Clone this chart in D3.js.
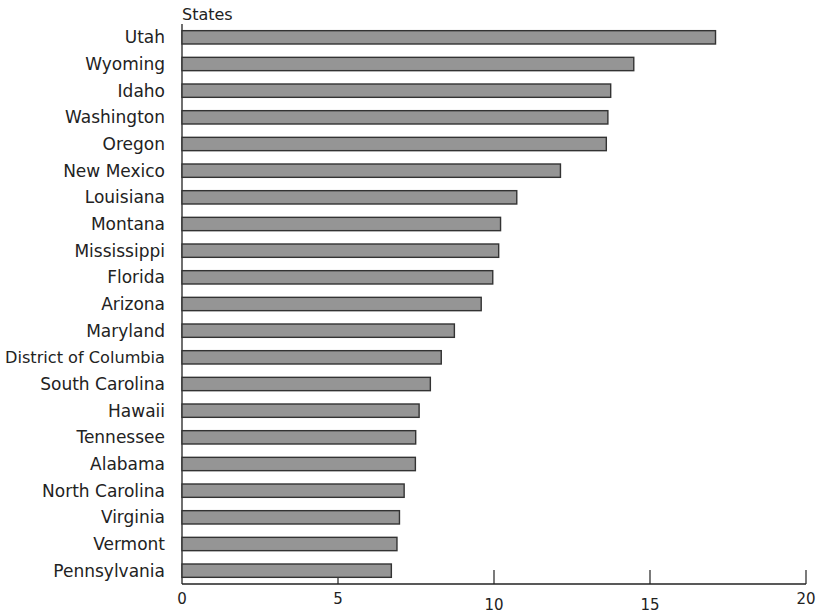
<!DOCTYPE html>
<html><head><meta charset="utf-8">
<script src="https://cdn.jsdelivr.net/npm/d3@7"></script>
<style>body{margin:0;background:#fff}text{font-family:"DejaVu Sans",sans-serif;fill:#222}</style>
</head><body><svg id="c" width="820" height="614"></svg>
<script>
const states = ["Utah","Wyoming","Idaho","Washington","Oregon","New Mexico","Louisiana","Montana","Mississippi","Florida","Arizona","Maryland","District of Columbia","South Carolina","Hawaii","Tennessee","Alabama","North Carolina","Virginia","Vermont","Pennsylvania"];
const values = [17.1,14.48,13.74,13.65,13.6,12.13,10.73,10.21,10.15,9.96,9.59,8.73,8.31,7.96,7.6,7.49,7.48,7.12,6.97,6.89,6.71];
const tickValues = [0,5,10,15,20];
const loweredTicks = [10,15];
const axisTitle = "States";

const svg = d3.select("#c");
const x = d3.scaleLinear().domain([0,20]).range([182,806]);
const y = d3.scaleBand().domain(states).range([24,584]).paddingInner(0.5).paddingOuter(0.25);

// x axis
const ax = svg.append("g");
ax.append("line").attr("x1",x(0)).attr("x2",x(20)).attr("y1",584).attr("y2",584).attr("stroke","#222").attr("stroke-width",1.3);
ax.selectAll("line.t").data(tickValues.slice(1)).join("line").attr("class","t")
  .attr("x1",d=>x(d)).attr("x2",d=>x(d)).attr("y1",570).attr("y2",584).attr("stroke","#222").attr("stroke-width",1.2);
ax.selectAll("text").data(tickValues).join("text")
  .attr("x",d=>x(d)).attr("y",d=>loweredTicks.includes(d)?610:604)
  .attr("text-anchor","middle").attr("font-size",15).text(d=>d);

// y axis line
svg.append("line").attr("x1",x(0)).attr("x2",x(0)).attr("y1",24).attr("y2",584).attr("stroke","#222").attr("stroke-width",1.3);

// bars
svg.selectAll("rect").data(states).join("rect")
  .attr("x",x(0)).attr("y",d=>y(d)).attr("width",(d,i)=>x(values[i])-x(0)).attr("height",y.bandwidth())
  .attr("fill","#959595").attr("stroke","#333").attr("stroke-width",1.4);

// labels
svg.selectAll("text.lab").data(states).join("text").attr("class","lab")
  .attr("x",165).attr("y",d=>y(d)+y.bandwidth()/2).attr("dy","0.36em")
  .attr("text-anchor","end").attr("font-size",17).text(d=>d)
  .each(function(d){ if(d==="District of Columbia") d3.select(this).attr("font-size",16).attr("textLength",160).attr("lengthAdjust","spacingAndGlyphs"); });

svg.append("text").attr("x",182).attr("y",20).attr("font-size",16).text(axisTitle);
</script></body></html>
